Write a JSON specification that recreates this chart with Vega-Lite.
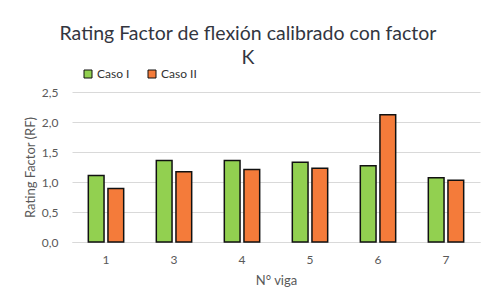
{
  "$schema": "https://vega.github.io/schema/vega-lite/v6.json",
  "width": 408,
  "height": 150,
  "autosize": "none",
  "padding": {"left": 72, "top": 92, "right": 18, "bottom": 54},
  "background": "white",
  "title": {
    "text": ["Rating Factor de flexión calibrado con factor", "K"],
    "anchor": "middle",
    "dx": -28,
    "offset": 0,
    "font": "Lato",
    "fontSize": 19.5,
    "fontWeight": "normal",
    "color": "#33363f",
    "lineHeight": 24
  },
  "config": {
    "view": {"stroke": null},
    "font": "Lato"
  },
  "data": {
    "values": [
      {"viga": "1", "caso": "Caso I", "rf": 1.11},
      {"viga": "1", "caso": "Caso II", "rf": 0.89},
      {"viga": "3", "caso": "Caso I", "rf": 1.36},
      {"viga": "3", "caso": "Caso II", "rf": 1.17},
      {"viga": "4", "caso": "Caso I", "rf": 1.36},
      {"viga": "4", "caso": "Caso II", "rf": 1.21},
      {"viga": "5", "caso": "Caso I", "rf": 1.33},
      {"viga": "5", "caso": "Caso II", "rf": 1.23},
      {"viga": "6", "caso": "Caso I", "rf": 1.27},
      {"viga": "6", "caso": "Caso II", "rf": 2.12},
      {"viga": "7", "caso": "Caso I", "rf": 1.07},
      {"viga": "7", "caso": "Caso II", "rf": 1.03}
    ]
  },
  "mark": {"type": "bar", "stroke": "#111111", "strokeWidth": 1.5},
  "encoding": {
    "x": {
      "field": "viga",
      "type": "nominal",
      "scale": {"paddingInner": 0.48, "paddingOuter": 0.24},
      "axis": {
        "title": "N° viga",
        "labelAngle": 0,
        "labelFontSize": 12,
        "labelColor": "#595959",
        "labelPadding": 12,
        "titleFontSize": 13,
        "titleFontWeight": "normal",
        "titleColor": "#595959",
        "titlePadding": 9,
        "ticks": false,
        "domainColor": "#d9d9d9",
        "domainWidth": 1
      }
    },
    "xOffset": {"field": "caso", "type": "nominal", "scale": {"paddingInner": 0.2}},
    "y": {
      "field": "rf",
      "type": "quantitative",
      "scale": {"domain": [0, 2.5]},
      "axis": {
        "title": "Rating Factor (RF)",
        "values": [0, 0.5, 1, 1.5, 2, 2.5],
        "labelExpr": "replace(format(datum.value, '.1f'), '.', ',')",
        "labelFontSize": 12,
        "labelColor": "#595959",
        "labelPadding": 14,
        "titleFontSize": 13,
        "titleFontWeight": "normal",
        "titleColor": "#595959",
        "titlePadding": 4,
        "ticks": false,
        "domain": false,
        "gridColor": "#d9d9d9",
        "gridWidth": 1
      }
    },
    "color": {
      "field": "caso",
      "type": "nominal",
      "scale": {"domain": ["Caso I", "Caso II"], "range": ["#92D050", "#F47B3A"]},
      "legend": {
        "title": null,
        "orient": "none",
        "direction": "horizontal",
        "legendX": 10,
        "legendY": -24,
        "symbolType": "square",
        "symbolSize": 64,
        "symbolStrokeColor": "#111111",
        "symbolStrokeWidth": 1,
        "symbolOpacity": 1,
        "labelFontSize": 12,
        "labelColor": "#333333",
        "labelOffset": 3,
        "columnPadding": 16
      }
    }
  }
}
